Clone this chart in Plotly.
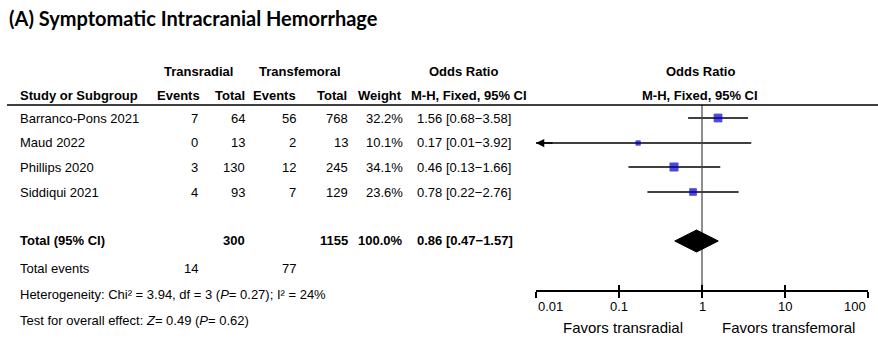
import math
import plotly.graph_objects as go

# ---- data -------------------------------------------------------------
studies = ["Barranco-Pons 2021", "Maud 2022", "Phillips 2020", "Siddiqui 2021"]
tr_events = [7, 0, 3, 4]
tr_total = [64, 13, 130, 93]
tf_events = [56, 2, 12, 7]
tf_total = [768, 13, 245, 129]
weight = [32.2, 10.1, 34.1, 23.6]
odds_ratio = [1.56, 0.17, 0.46, 0.78]
ci_low = [0.68, 0.01, 0.13, 0.22]
ci_high = [3.58, 3.92, 1.66, 2.76]

total_tr = 300
total_tf = 1155
total_weight = 100.0
pooled_or = 0.86
pooled_low = 0.47
pooled_high = 1.57
total_events_tr = 14
total_events_tf = 77
heterogeneity = "Heterogeneity: Chi² = 3.94, df = 3 (<i>P</i>= 0.27); I² = 24%"
overall_test = "Test for overall effect: <i>Z</i>= 0.49 (<i>P</i>= 0.62)"

tick_values = [0.01, 0.1, 1, 10, 100]
tick_labels = ["0.01", "0.1", "1", "10", "100"]

# ---- layout constants (pixels) ---------------------------------------
W, H = 878, 340
ROW_Y = [118, 143, 167, 192]
TOTAL_Y = 241
AXIS_Y = 290
HEADER_LINE_Y = 105

TABLE_FONT = "Liberation Sans, Arial, sans-serif"
FS = 13


def px(x):
    return x / W


def py(y):
    return (H - y) / H


fig = go.Figure()

# CI lines
xs, ys = [], []
for lo, hi, y in zip(ci_low, ci_high, ROW_Y):
    xs += [lo, hi, None]
    ys += [y, y, None]
fig.add_trace(go.Scatter(x=xs, y=ys, mode="lines",
                         line=dict(color="black", width=1.5),
                         hoverinfo="skip", showlegend=False))

# line of no effect
fig.add_trace(go.Scatter(x=[1, 1], y=[HEADER_LINE_Y, AXIS_Y], mode="lines",
                         line=dict(color="#444444", width=1.2),
                         hoverinfo="skip", showlegend=False))

# study boxes, area proportional to weight
fig.add_trace(go.Scatter(
    x=odds_ratio, y=ROW_Y, mode="markers",
    marker=dict(symbol="square", color="#0000C8",
                size=[1.4 * math.sqrt(w) for w in weight],
                line=dict(width=0.8, color="#0000C8")),
    hoverinfo="skip", showlegend=False))

# pooled diamond
fig.add_trace(go.Scatter(
    x=[pooled_low, pooled_or, pooled_high, pooled_or, pooled_low],
    y=[TOTAL_Y, TOTAL_Y - 11, TOTAL_Y, TOTAL_Y + 11, TOTAL_Y],
    mode="lines", fill="toself", fillcolor="black",
    line=dict(color="black", width=1), hoverinfo="skip", showlegend=False))

# companion axis for ticks crossing upward
fig.add_trace(go.Scatter(x=[1], y=[AXIS_Y], xaxis="x2", mode="markers",
                         marker=dict(opacity=0), hoverinfo="skip", showlegend=False))

ann = []


def text(x, y, s, anchor="left", bold=False, family=TABLE_FONT, size=FS):
    if bold:
        s = "<b>" + s + "</b>"
    ann.append(dict(x=px(x), y=py(y), xref="paper", yref="paper", text=s,
                    showarrow=False, xanchor=anchor, yanchor="middle",
                    font=dict(family=family, size=size, color="black")))


# title
ann.append(dict(x=px(7), y=py(18), xref="paper", yref="paper",
                text="<b>(A) Symptomatic Intracranial Hemorrhage</b>",
                showarrow=False, xanchor="left", yanchor="middle",
                font=dict(family="Lato, Open Sans, sans-serif", size=20, color="black")))

# headers
text(198, 71, "Transradial", "center", True)
text(300, 71, "Transfemoral", "center", True)
text(463, 71, "Odds Ratio", "center", True)
text(700, 71, "Odds Ratio", "center", True)
text(18, 95, "Study or Subgroup", "left", True)
text(202, 95, "Events", "right", True)
text(247, 95, "Total", "right", True)
text(298, 95, "Events", "right", True)
text(349, 95, "Total", "right", True)
text(404, 95, "Weight", "right", True)
text(469, 95, "M-H, Fixed, 95% CI", "center", True)
text(700, 95, "M-H, Fixed, 95% CI", "center", True)

# study rows
for i, y in enumerate(ROW_Y):
    text(18, y, studies[i])
    text(200, y, str(tr_events[i]), "right")
    text(247, y, str(tr_total[i]), "right")
    text(298, y, str(tf_events[i]), "right")
    text(350, y, str(tf_total[i]), "right")
    text(405, y, f"{weight[i]:.1f}%", "right")
    text(415, y, f"{odds_ratio[i]:.2f} [{ci_low[i]:.2f}\u2212{ci_high[i]:.2f}]", "left")

# totals
text(18, TOTAL_Y, "Total (95% CI)", "left", True)
text(247, TOTAL_Y, str(total_tr), "right", True)
text(350, TOTAL_Y, str(total_tf), "right", True)
text(405, TOTAL_Y, f"{total_weight:.1f}%", "right", True)
text(415, TOTAL_Y, f"{pooled_or:.2f} [{pooled_low:.2f}\u2212{pooled_high:.2f}]", "left", True)
text(18, 268, "Total events")
text(200, 268, str(total_events_tr), "right")
text(298, 268, str(total_events_tf), "right")
text(18, 294, heterogeneity)
text(18, 320, overall_test)

# tick labels (end labels kept inside the axis)
for i, (v, lab) in enumerate(zip(tick_values, tick_labels)):
    anchor = "left" if i == 0 else ("right" if i == len(tick_values) - 1 else "center")
    ann.append(dict(x=math.log10(v), y=py(306), xref="x", yref="paper", text=lab,
                    showarrow=False, xanchor=anchor, yanchor="middle",
                    font=dict(family=TABLE_FONT, size=FS, color="black")))

text(623, 327, "Favors transradial", "center", size=15)
text(788, 327, "Favors transfemoral", "center", size=15)

# arrow for the CI running past the axis limit
i_arrow = ci_low.index(min(ci_low))
ann.append(dict(x=math.log10(ci_low[i_arrow]), y=ROW_Y[i_arrow], xref="x", yref="y",
                ax=18, ay=0, axref="pixel", ayref="pixel", text="",
                showarrow=True, arrowhead=2, arrowsize=1.1, arrowwidth=1.5,
                arrowcolor="black"))

fig.update_layout(
    width=W, height=H, margin=dict(l=0, r=0, t=0, b=0),
    paper_bgcolor="white", plot_bgcolor="white",
    annotations=ann,
    shapes=[dict(type="line", xref="paper", yref="paper",
                 x0=px(7), x1=1, y0=py(HEADER_LINE_Y), y1=py(HEADER_LINE_Y),
                 line=dict(color="black", width=1.5))],
    xaxis=dict(type="log", range=[-2, 2], domain=[px(536), px(868)],
               showline=True, linecolor="black", linewidth=1.5,
               ticks="outside", ticklen=6, tickwidth=1.5, tickcolor="black",
               tickvals=tick_values, showticklabels=False,
               showgrid=False, zeroline=False, anchor="y", fixedrange=True),
    xaxis2=dict(type="log", range=[-2, 2], domain=[px(536), px(868)],
                overlaying="x", anchor="y", side="bottom",
                ticks="inside", ticklen=5, tickwidth=1.5, tickcolor="black",
                tickvals=tick_values, showticklabels=False, showline=False,
                showgrid=False, zeroline=False, fixedrange=True),
    yaxis=dict(range=[AXIS_Y, 0], domain=[py(AXIS_Y), 1], visible=False,
               showgrid=False, zeroline=False, fixedrange=True),
)

fig.write_html("out.html")
